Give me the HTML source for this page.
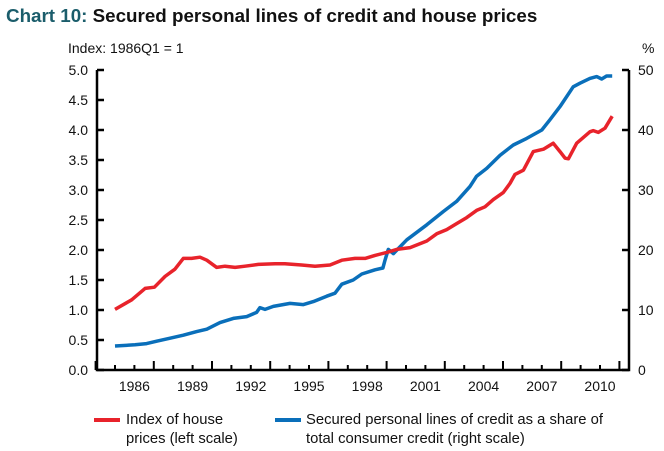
<!DOCTYPE html>
<html><head><meta charset="utf-8"><style>
body{margin:0;background:#fff;}
svg{display:block;font-family:"Liberation Sans",Arial,sans-serif;}
</style></head><body>
<svg id="chart" width="664" height="451" viewBox="0 0 664 451">
<text x="6" y="22" font-size="18.8" font-weight="bold"><tspan fill="#1b5d6b">Chart 10:</tspan><tspan fill="#111"> Secured personal lines of credit and house prices</tspan></text>
<text x="68" y="53" font-size="14" fill="#111">Index: 1986Q1 = 1</text>
<text x="642" y="53" font-size="14" fill="#111">%</text>
<g id="axes"></g>
<g id="series"></g>
<g>
<line x1="94" y1="420" x2="120" y2="420" stroke="#e8232b" stroke-width="4"/>
<text x="126" y="424" font-size="14.8" fill="#111">Index of house</text>
<text x="126" y="443" font-size="14.8" fill="#111">prices (left scale)</text>
<line x1="275" y1="420" x2="301" y2="420" stroke="#0a6fba" stroke-width="4"/>
<text x="306" y="424" font-size="14.8" fill="#111">Secured personal lines of credit as a share of</text>
<text x="306" y="443" font-size="14.8" fill="#111">total consumer credit (right scale)</text>
</g>
</svg>
<script>
const leftTicks=[0,0.5,1,1.5,2,2.5,3,3.5,4,4.5,5];
const rightTicks=[0,10,20,30,40,50];
const yearLabels=[1986,1989,1992,1995,1998,2001,2004,2007,2010];
const houseDates=[1986.00,1986.86,1987.55,1988.03,1988.58,1989.09,1989.52,1989.95,1990.38,1990.73,1991.24,1991.67,1992.19,1992.70,1993.39,1994.25,1994.76,1995.62,1996.31,1997.08,1997.69,1998.37,1998.89,1999.40,2000.01,2000.52,2001.21,2002.07,2002.58,2003.10,2003.61,2004.13,2004.64,2005.07,2005.50,2006.02,2006.36,2006.62,2007.05,2007.56,2008.08,2008.59,2008.94,2009.20,2009.37,2009.80,2010.48,2010.65,2010.91,2011.26,2011.63];
const houseValues=[1.01,1.17,1.36,1.38,1.56,1.68,1.86,1.86,1.88,1.83,1.71,1.73,1.71,1.73,1.76,1.77,1.77,1.75,1.73,1.75,1.83,1.86,1.86,1.91,1.96,2.01,2.04,2.15,2.27,2.34,2.44,2.54,2.66,2.72,2.84,2.96,3.11,3.26,3.33,3.64,3.68,3.78,3.64,3.53,3.52,3.78,3.97,3.99,3.96,4.03,4.23];
const creditDates=[1986.00,1987.03,1987.63,1988.15,1988.84,1989.52,1990.21,1990.73,1991.41,1992.10,1992.79,1993.30,1993.47,1993.73,1994.16,1995.02,1995.71,1996.22,1996.91,1997.34,1997.69,1998.28,1998.72,1999.40,1999.81,1999.92,2000.09,2000.35,2001.04,2002.07,2002.92,2003.61,2004.30,2004.64,2005.16,2005.85,2006.53,2007.22,2008.00,2008.42,2008.94,2009.62,2009.97,2010.48,2010.83,2011.09,2011.34,2011.63];
const creditValues=[4.0,4.2,4.4,4.8,5.3,5.8,6.4,6.8,7.9,8.6,8.9,9.6,10.4,10.1,10.6,11.1,10.9,11.4,12.3,12.8,14.3,15.0,16.0,16.7,17.0,18.3,20.1,19.4,21.7,24.2,26.4,28.1,30.6,32.3,33.6,35.8,37.5,38.6,40.0,41.7,43.9,47.2,47.8,48.6,48.9,48.5,49.0,49.0];

const X0=97,X1=629,Y0=370,Y1=70;
const xs=t=>115+(t-1986)*19.4;
const yl=v=>Y0-(v/5)*(Y0-Y1);
const yr=v=>Y0-(v/50)*(Y0-Y1);
const NS='http://www.w3.org/2000/svg';
function mk(tag,attrs,parent,txt){const e=document.createElementNS(NS,tag);for(const k in attrs)e.setAttribute(k,attrs[k]);if(txt!==undefined)e.textContent=txt;parent.appendChild(e);return e;}
const ax=document.getElementById('axes');
let e;
e=mk('path',{d:`M${X0},${Y1} V${Y0} H${X1} V${Y1}`,fill:'none',stroke:'#000','stroke-width':2.5},ax);


leftTicks.forEach(v=>{
 e=mk('line',{x1:X0,x2:X0+7,y1:yl(v),y2:yl(v),stroke:'#000','stroke-width':2.5},ax);
 
 
 e=mk('text',{x:88,y:yl(v)+5,'font-size':14,'text-anchor':'end',fill:'#111'},ax,v.toFixed(1));
 
 
});
rightTicks.forEach(v=>{
 e=mk('line',{x1:X1-7,x2:X1,y1:yr(v),y2:yr(v),stroke:'#000','stroke-width':2.5},ax);
 
 
 e=mk('text',{x:638,y:yr(v)+5,'font-size':14,fill:'#111'},ax,String(v));
 
 
});
for(let yv=1985;yv<=2012;yv++){
 const big=(yv-1985)%3===0;
 e=mk('line',{x1:xs(yv),x2:xs(yv),y1:Y0,y2:Y0-(big?9:5),stroke:'#000','stroke-width':2},ax);
 
 
}
yearLabels.forEach(yv=>{
 e=mk('text',{x:xs(yv+1),y:391,'font-size':14,'text-anchor':'middle',fill:'#111'},ax,String(yv));
 
 
});
const sg=document.getElementById('series');
const cp=creditDates.map((d,i)=>`${i?'L':'M'}${xs(d).toFixed(1)},${yr(creditValues[i]).toFixed(1)}`).join(' ');
e=mk('path',{d:cp,fill:'none',stroke:'#0a6fba','stroke-width':3.5,'stroke-linejoin':'round'},sg);


const hp=houseDates.map((d,i)=>`${i?'L':'M'}${xs(d).toFixed(1)},${yl(houseValues[i]).toFixed(1)}`).join(' ');
e=mk('path',{d:hp,fill:'none',stroke:'#e8232b','stroke-width':3.5,'stroke-linejoin':'round'},sg);


</script>
</body></html>
